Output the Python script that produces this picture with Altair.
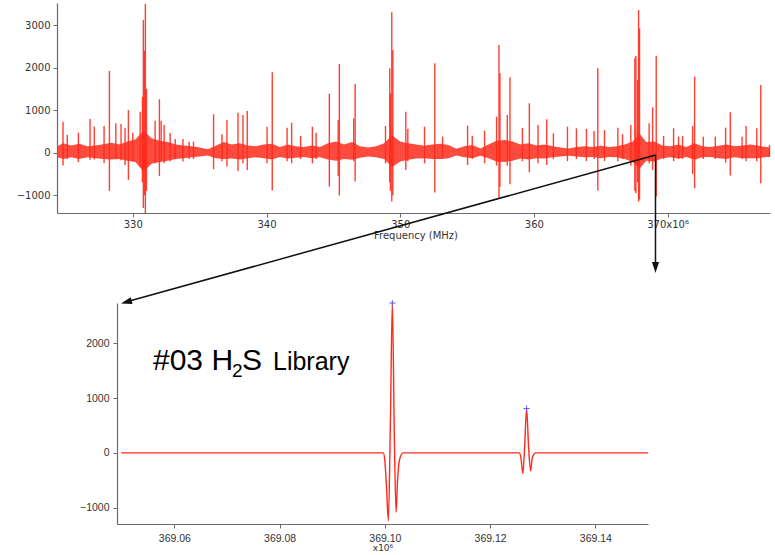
import altair as alt
import pandas as pd

# ---- survey spectrum (MHz): strong lines with their positive / negative excursions
line_freq = [324.78, 325.10, 325.93, 326.80, 327.12, 327.85, 328.25, 328.73, 329.12, 329.42,
             329.67, 330.00, 330.55, 330.72, 330.79, 330.87, 330.94, 331.02, 331.67, 331.99,
             332.12, 332.34, 332.79, 333.17, 333.75, 334.22, 334.54, 336.04, 336.67, 337.04,
             337.87, 338.24, 338.56, 340.04, 340.43, 341.54, 341.88, 342.55, 343.43, 343.71,
             344.70, 345.36, 345.45, 346.52, 346.63, 348.90, 349.22, 349.27, 349.37, 349.45,
             350.42, 350.57, 351.82, 352.59, 353.17, 355.04, 355.39, 356.31, 357.21, 357.39,
             357.46, 358.01, 358.21, 359.14, 359.66, 360.31, 360.96, 361.46, 362.51, 363.18,
             363.93, 364.50, 364.78, 365.28, 366.28, 366.63, 367.25, 367.55, 367.63, 367.75,
             367.83, 367.90, 368.62, 368.88, 369.15, 369.70, 370.45, 370.82, 371.12, 371.87,
             372.02, 372.67, 373.57, 374.34, 374.69, 375.57, 375.87, 376.67, 376.97, 377.62]
line_top = [728, 416, 470, 792, 611, 627, 1920, 690, 675, 580,
            1000, 470, 964, 1316, 3120, 2400, 3500, 1500, 752, 1255,
            752, 650, 460, 320, 320, 259, 259, 902, 432, 768,
            940, 886, 980, 611, 1890, 588, 705, 392, 611, 470,
            1387, 768, 2085, 808, 1615, 627, 1983, 1395, 3300, 2413,
            964, 560, 611, 2100, 376, 634, 400, 517, 846, 2530,
            1866, 886, 1772, 580, 1161, 650, 784, 455, 611, 572,
            556, 509, 1983, 533, 588, 432, 650, 2218, 2272, 1708,
            3353, 2923, 690, 1066, 2280, 392, 572, 376, 392, 627,
            1786, 376, 376, 588, 948, 376, 627, 572, 1591, 181]
line_bottom = [-305, -150, -220, -170, -160, -242, -900, -150, -180, -290,
               -640, -200, -300, -700, -1300, -1000, -1420, -900, -250, -548,
               -200, -250, -200, -150, -210, -150, -150, -390, -200, -329,
               -430, -250, -407, -250, -893, -200, -250, -150, -250, -150,
               -799, -548, -1010, -200, -681, -250, -700, -900, -1150, -1000,
               -407, -200, -250, -940, -150, -289, -150, -250, -300, -1070,
               -800, -300, -743, -200, -461, -250, -289, -150, -200, -150,
               -200, -150, -893, -200, -200, -150, -300, -900, -955, -700,
               -1150, -1100, -250, -407, -1034, -150, -200, -150, -150, -500,
               -837, -150, -150, -235, -540, -150, -200, -200, -719, -100]

# ---- noise floor of the survey spectrum
floor_freq = [324.35, 324.8, 325.4, 326.0, 326.6, 327.2, 327.8, 328.4, 329.0, 329.6,
              330.2, 330.8, 331.4, 332.0, 332.6, 333.2, 333.8, 334.4, 335.0, 335.6,
              336.2, 336.8, 337.4, 338.0, 338.6, 339.2, 339.8, 340.4, 341.0, 341.6,
              342.2, 342.8, 343.4, 344.0, 344.6, 345.2, 345.8, 346.4, 347.0, 347.6,
              348.2, 348.8, 349.4, 350.0, 350.6, 351.2, 351.8, 352.4, 353.0, 353.6,
              354.2, 354.8, 355.4, 356.0, 356.6, 357.2, 357.8, 358.4, 359.0, 359.6,
              360.2, 360.8, 361.4, 362.0, 362.6, 363.2, 363.8, 364.4, 365.0, 365.6,
              366.2, 366.8, 367.4, 367.9, 368.4, 369.0, 369.6, 370.2, 370.8, 371.4,
              372.0, 372.6, 373.2, 373.8, 374.4, 375.0, 375.6, 376.2, 376.8, 377.4, 377.66]
floor_high = [150, 220, 170, 210, 150, 170, 200, 230, 190, 260,
              310, 520, 340, 280, 250, 190, 170, 150, 120, 80,
              160, 250, 190, 220, 170, 150, 190, 210, 130, 190,
              150, 130, 170, 130, 220, 260, 190, 250, 150, 120,
              150, 220, 410, 260, 220, 190, 160, 190, 210, 180,
              90, 150, 180, 100, 190, 280, 300, 260, 190, 220,
              170, 190, 150, 120, 100, 130, 150, 130, 160, 130,
              150, 190, 260, 450, 250, 260, 170, 150, 190, 130,
              220, 150, 130, 160, 190, 150, 170, 190, 160, 130, 120]
floor_low = [-110, -150, -110, -150, -110, -130, -150, -160, -150, -190,
             -220, -450, -260, -220, -190, -150, -130, -110, -90, -70,
             -130, -150, -140, -160, -130, -110, -130, -160, -100, -140,
             -120, -100, -130, -110, -160, -190, -150, -170, -120, -90,
             -110, -150, -340, -210, -170, -140, -130, -150, -150, -130,
             -70, -110, -130, -75, -130, -210, -220, -190, -140, -160,
             -130, -140, -110, -90, -75, -90, -110, -100, -130, -100,
             -110, -150, -220, -380, -190, -210, -130, -110, -140, -100,
             -170, -110, -100, -130, -150, -110, -130, -130, -130, -100, -100]

# ---- H2S library spectrum around 369.1 x10^6
lib_freq = [369.0499, 369.0997, 369.1000, 369.1003, 369.10066, 369.10104, 369.10142,
            369.1018, 369.10213, 369.10241, 369.10279, 369.10345,
            369.12552, 369.12584, 369.12622, 369.12655, 369.12693, 369.12731,
            369.12769, 369.12803, 369.12869, 369.1500]
lib_signal = [0, 0, -150, -600, -1237, 500, 2735,
              300, -1085, -500, -120, 0,
              0, -80, -376, 100, 810, 100,
              -328, -80, 0, 0]
peak_freq = [369.10142, 369.12693]
peak_signal = [2735, 810]

W, H = 775, 555
RED = "#ff2a1c"
AXIS_GREY = "#6b6b6b"
LABEL_GREY = "#333333"

lines_df = pd.DataFrame({"freq": line_freq, "top": line_top, "bottom": line_bottom})
floor_df = pd.DataFrame({"freq": floor_freq, "high": floor_high, "low": floor_low})
lib_df = pd.DataFrame({"freq": lib_freq, "signal": lib_signal})
peaks_df = pd.DataFrame({"freq": peak_freq, "signal": peak_signal})
one = pd.DataFrame({"k": [0]})

axis_style = dict(domainColor=AXIS_GREY, domainWidth=1.2, tickColor=AXIS_GREY, tickWidth=1,
                  tickSize=4, labelColor=LABEL_GREY, grid=False, title=None)

# ---- upper panel: survey spectrum
x_top = alt.Scale(domain=[324.33, 377.66], range=[57, 770], nice=False, zero=False)
y_top = alt.Scale(domain=[-1420, 3520], range=[213, 3], nice=False, zero=False)

floor = alt.Chart(floor_df).mark_area(color=RED, opacity=0.85).encode(
    x=alt.X("freq:Q", scale=x_top,
            axis=alt.Axis(orient="bottom", offset=-(H - 213), values=[330, 340, 350, 360, 370],
                          labelExpr="datum.value == 370 ? '370x10⁶' : datum.label",
                          labelFont="DejaVu Sans", labelFontSize=10, labelPadding=2, **axis_style)),
    y=alt.Y("high:Q", scale=y_top,
            axis=alt.Axis(orient="left", offset=-57, values=[-1000, 0, 1000, 2000, 3000],
                          format="d", labelFont="DejaVu Sans", labelFontSize=10, labelPadding=3,
                          **axis_style)),
    y2="low:Q",
)
spikes = alt.Chart(lines_df).mark_rule(color=RED, strokeWidth=1.4, opacity=0.9).encode(
    x="freq:Q", y="top:Q", y2="bottom:Q"
)
survey = alt.layer(floor, spikes)

# ---- lower panel: library spectrum
x_bot = alt.Scale(domain=[369.0491, 369.1500], range=[117, 648], nice=False, zero=False)
y_bot = alt.Scale(domain=[-1297, 2735], range=[524, 303], nice=False, zero=False)

curve = alt.Chart(lib_df).mark_line(color=RED, strokeWidth=1.4, interpolate="monotone").encode(
    x=alt.X("freq:Q", scale=x_bot,
            axis=alt.Axis(orient="bottom", offset=-(H - 524),
                          values=[369.06, 369.08, 369.10, 369.12, 369.14], format=".2f",
                          labelFont="Liberation Sans", labelFontSize=10.5, labelPadding=5, **axis_style)),
    y=alt.Y("signal:Q", scale=y_bot,
            axis=alt.Axis(orient="left", offset=-117, values=[-1000, 0, 1000, 2000], format="d",
                          labelFont="Liberation Sans", labelFontSize=10.5, labelPadding=4, **axis_style)),
)
peaks = alt.Chart(peaks_df).mark_point(
    shape="M-1,0L1,0M0,-1L0,1", size=36, filled=False, color="#5b5bff", strokeWidth=1, opacity=1
).encode(x="freq:Q", y="signal:Q")
library = alt.layer(curve, peaks)

# ---- annotations: axis captions, label, zoom arrows
def text(s, x, y, size, font="Liberation Sans", align="left", baseline="alphabetic", color="#000000"):
    return alt.Chart(one).mark_text(text=s, font=font, fontSize=size, align=align,
                                    baseline=baseline, color=color).encode(
        x=alt.value(x), y=alt.value(y))

freq_title = text("Frequency (MHz)", 416, 236, 10, font="DejaVu Sans", align="center",
                  baseline="middle", color=LABEL_GREY)
exp_label = text("x10⁶", 383, 548, 9, font="DejaVu Sans", align="center",
                 baseline="middle", color=LABEL_GREY)
name_a = text("#03 H", 153, 370, 30)
name_sub = text("2", 232, 377, 19)
name_b = text("S", 242, 370, 30)
name_c = text("Library", 273, 370, 25)

ARROW = "M0,0L-0.7,2.2L0.7,2.2Z"
diag = alt.Chart(one).mark_rule(color="#111111", strokeWidth=1.5).encode(
    x=alt.value(655.5), y=alt.value(155), x2=alt.value(124), y2=alt.value(302.5))
vert = alt.Chart(one).mark_rule(color="#111111", strokeWidth=1.5).encode(
    x=alt.value(655.5), y=alt.value(155), x2=alt.value(655.5), y2=alt.value(268))
head_diag = alt.Chart(one).mark_point(shape=ARROW, size=100, filled=True, color="#111111",
                                      opacity=1, angle=254.5, strokeWidth=0).encode(
    x=alt.value(121), y=alt.value(303.5))
head_vert = alt.Chart(one).mark_point(shape=ARROW, size=100, filled=True, color="#111111",
                                      opacity=1, angle=180, strokeWidth=0).encode(
    x=alt.value(655.5), y=alt.value(273))

chart = alt.layer(
    survey, library, freq_title, exp_label, name_a, name_sub, name_b, name_c,
    diag, vert, head_diag, head_vert,
).resolve_scale(x="independent", y="independent").resolve_axis(
    x="independent", y="independent"
).properties(
    width=W, height=H, padding=0, autosize=alt.AutoSizeParams(type="none"), background="white"
).configure_view(stroke=None)

chart.save("out.html", embed_options={"renderer": "svg", "actions": False})
